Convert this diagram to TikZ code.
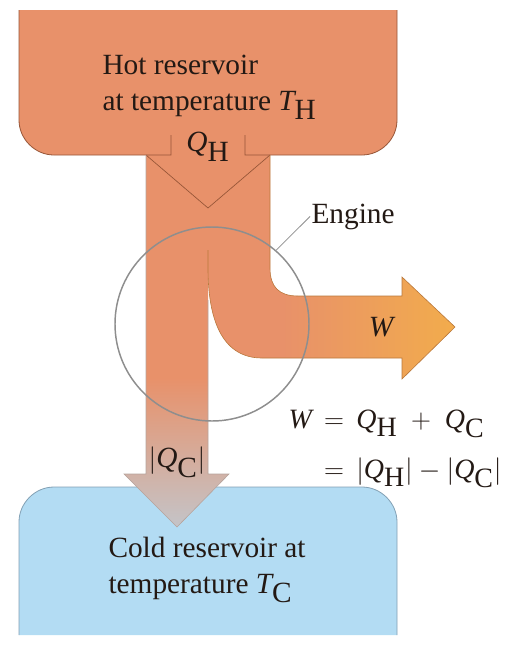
\documentclass[tikz,border=0pt]{standalone}
\usepackage{fontspec}
\setmainfont{Liberation Serif}

\definecolor{hotfill}{RGB}{232,145,106}
\definecolor{hotedge}{RGB}{150,85,55}
\definecolor{workfill}{RGB}{242,172,76}
\definecolor{workedge}{RGB}{185,120,60}
\definecolor{coolgray}{RGB}{196,196,200}
\definecolor{coldfill}{RGB}{179,220,243}
\definecolor{coldedge}{RGB}{130,160,180}
\definecolor{ringgray}{RGB}{142,142,142}
\definecolor{inkdark}{RGB}{35,25,20}

\pgfdeclareverticalshading{columnshade}{100bp}{color(0bp)=(coolgray); color(25bp)=(coolgray); color(45bp)=(hotfill); color(100bp)=(hotfill)}
\pgfdeclarehorizontalshading{workshade}{100bp}{color(0bp)=(hotfill); color(40bp)=(hotfill); color(75bp)=(workfill); color(100bp)=(workfill)}

\newcommand{\Qhot}{\textit{Q}_\textrm{H}}
\newcommand{\Qcold}{\textit{Q}_\textrm{C}}
\newcommand{\Thot}{\textit{T}_\textrm{H}}
\newcommand{\Tcold}{\textit{T}_\textrm{C}}

\tikzset{every picture/.style={line width=0.75pt}}
\tikzset{
  lbl/.style={inner sep=0.75pt, text=inkdark, font=\fontsize{22}{26.5}\selectfont, align=left},
  enginering/.style={draw=ringgray, line width=1.1pt, circle, inner sep=0pt},
  flowedge/.style={draw=workedge, line width=0.45pt},
}

\begin{document}
\begin{tikzpicture}[x=0.75pt,y=0.75pt,yscale=-1,xscale=1]
\useasboundingbox (0,0) rectangle (510,658);

%Shape: Cold reservoir
\fill [coldfill] (19,635) -- (19,522) .. controls (19,503) and (35,487) .. (54,487) -- (362,487) .. controls (381,487) and (397,503) .. (397,522) -- (397,635) -- cycle ;
\draw [coldedge, line width=0.6pt] (19,635) -- (19,522) .. controls (19,503) and (35,487) .. (54,487) -- (362,487) .. controls (381,487) and (397,503) .. (397,522) -- (397,635) ;

%Shape: Hot reservoir
\fill [hotfill] (19,10) -- (19,120) .. controls (19,139) and (35,155) .. (54,155) -- (362,155) .. controls (381,155) and (397,139) .. (397,120) -- (397,10) -- cycle ;

%Shape: Column down to cold reservoir
\shade [shading=columnshade] (146,155) -- (208,155) -- (208,474) -- (229,474) -- (177,527) -- (124,474) -- (146,474) -- cycle ;
%Shape: Branch turning into work arrow
\shade [shading=workshade] (208,155) -- (270,155) -- (270,268) .. controls (270,287) and (279,296) .. (298,296) -- (402,296) -- (402,277) -- (455,327) -- (402,379) -- (402,358) -- (262,358) .. controls (225,358) and (208,325) .. (208,268) -- cycle ;

%Straight Lines: outlines
\draw [hotedge, line width=0.6pt] (19,10) -- (19,120) .. controls (19,139) and (35,155) .. (54,155) -- (171,155) -- (171,135) ;
\draw [hotedge, line width=0.6pt] (245,135) -- (245,155) -- (362,155) .. controls (381,155) and (397,139) .. (397,120) -- (397,10) ;
\draw [hotedge, line width=0.5pt] (146,155) -- (208,208) -- (270,155) ;
\draw [flowedge] (270,155) -- (270,268) .. controls (270,287) and (279,296) .. (298,296) -- (402,296) -- (402,277) -- (455,327) -- (402,379) -- (402,358) -- (262,358) .. controls (225,358) and (208,325) .. (208,268) -- (208,250) ;
\draw [flowedge, draw=coolgray!70!hotedge] (146,155) -- (146,474) -- (124,474) -- (177,527) -- (229,474) -- (208,474) -- (208,300) ;

%Shape: Engine
\node [enginering, minimum size=145.5pt] (engine) at (212,324) {};

% Text Node
\node [lbl, anchor=base west] (hottext) at (101,110) {Hot reservoir\\at temperature $\Thot$};
% Text Node
\node [lbl] (qhot) at (208,147) {$\Qhot$};
% Text Node
\node [lbl, anchor=base west] (englbl) at (310,223) {Engine};
\draw [ringgray, line width=0.6pt] (engine.49) -- (englbl.west) ;
% Text Node
\node [lbl] (work) at (381,327) {$\textit{W}$};
% Text Node
\node [lbl, anchor=base west, font=\fontsize{21}{26.5}\selectfont] (balance) at (287,478) {$\textit{W}\,=\,\Qhot \;+\; \Qcold$\\[11pt]$\phantom{\textit{W}}\,=\,|\Qhot| - |\Qcold|$};
% Text Node
\node [lbl] (qcold) at (177,462) {$|\Qcold|$};
% Text Node
\node [lbl, anchor=base west] (coldtext) at (107,593) {Cold reservoir at\\temperature $\Tcold$};

\end{tikzpicture}
\end{document}
